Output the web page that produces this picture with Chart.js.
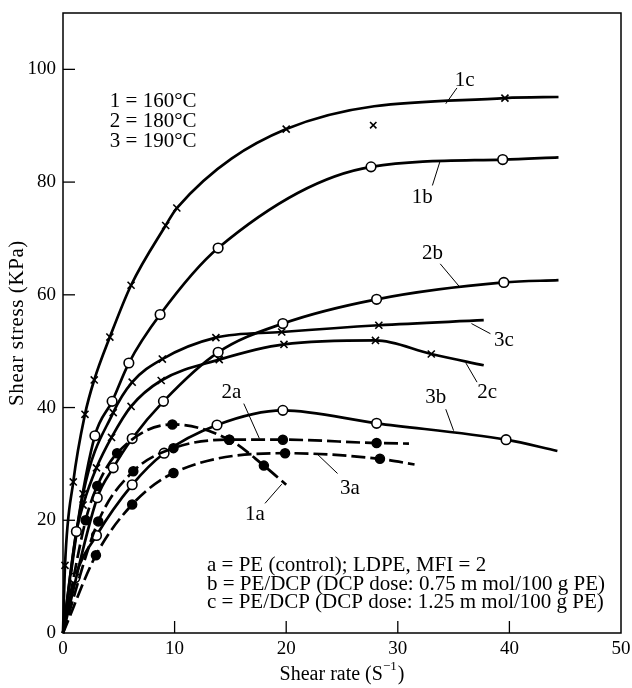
<!DOCTYPE html>
<html>
<head>
<meta charset="utf-8">
<script src="https://cdn.jsdelivr.net/npm/chart.js@4.4.0/dist/chart.umd.min.js"></script>
<style>
  html, body { margin: 0; padding: 0; background: #fff; }
  #caixa { width: 632px; height: 688px; position: relative; }
</style>
</head>
<body>
<div id="caixa"><canvas id="grafico"></canvas></div>
<script>
// ============================
// DADOS
// ============================
const xTicks = [0, 10, 20, 30, 40, 50];
const yTicks = [0, 20, 40, 60, 80, 100];

// 1 = 160°C, 2 = 180°C, 3 = 190°C
// a = PE, b = PE/DCP 0.75, c = PE/DCP 1.25
const x1a = [0, 2.03, 3.07, 4.85, 9.8, 14.9, 18.0, 20.0];
const y1a = [0, 20.0, 26.1, 31.9, 37.0, 34.3, 29.7, 26.3];

const x2a = [0, 3.16, 6.3, 9.9, 14.9, 19.7, 28.1, 31.0];
const y2a = [0, 19.8, 28.7, 32.8, 34.3, 34.3, 33.7, 33.6];

const x3a = [0, 2.95, 6.2, 9.9, 19.9, 28.4, 31.5];
const y3a = [0, 13.8, 22.8, 28.4, 31.9, 30.9, 29.9];

const x1b = [0, 1.2, 2.86, 4.4, 5.9, 8.7, 13.9, 27.6, 39.4, 44.4];
const y1b = [0, 18.0, 35.0, 41.1, 47.9, 56.5, 68.3, 82.7, 84.0, 84.4];

const x2b = [0, 3.07, 4.5, 6.2, 9.0, 13.9, 19.7, 28.1, 39.5, 44.4];
const y2b = [0, 24.0, 29.3, 34.5, 41.1, 49.8, 54.9, 59.2, 62.2, 62.6];

const x3b = [0, 1.07, 3.0, 6.2, 9.06, 13.8, 19.7, 28.1, 39.7, 44.3];
const y3b = [0, 9.8, 17.3, 26.3, 31.9, 36.9, 39.5, 37.2, 34.3, 32.3];

const x1c = [0, 0.18, 0.92, 1.97, 2.8, 4.2, 6.1, 9.2, 10.2, 20.0, 39.6, 44.4];
const y1c = [0, 12.0, 26.8, 38.8, 44.9, 52.5, 61.7, 72.3, 75.4, 89.4, 94.9, 95.1];

const x2c = [0, 1.2, 1.8, 3.0, 4.35, 6.1, 8.8, 14.0, 19.8, 28.0, 33.0, 37.7];
const y2c = [0, 18.0, 22.7, 29.3, 34.7, 40.2, 44.8, 48.5, 51.2, 51.9, 49.5, 47.5];

const x3c = [0, 1.8, 4.5, 6.2, 8.9, 13.7, 19.6, 28.3, 37.7];
const y3c = [0, 24.7, 39.1, 44.5, 48.6, 52.4, 53.4, 54.6, 55.5];

// ponto de 1c fora da curva
const x1cFora = [27.8];
const y1cFora = [90.1];

const curvas = [
  { nome: '1a', x: x1a, y: y1a, marca: 'cheia' },
  { nome: '2a', x: x2a, y: y2a, marca: 'cheia' },
  { nome: '3a', x: x3a, y: y3a, marca: 'cheia' },
  { nome: '1b', x: x1b, y: y1b, marca: 'aberta' },
  { nome: '2b', x: x2b, y: y2b, marca: 'aberta' },
  { nome: '3b', x: x3b, y: y3b, marca: 'aberta' },
  { nome: '1c', x: x1c, y: y1c, marca: 'xis' },
  { nome: '2c', x: x2c, y: y2c, marca: 'xis' },
  { nome: '3c', x: x3c, y: y3c, marca: 'xis' }
];

// ============================
// ESTILOS E TEXTOS
// ============================
const FONTE = '"Liberation Serif", "Times New Roman", serif';

const estilosMarca = {
  cheia:  { pointStyle: 'circle',   raio: 4.5, fundo: '#000', borda: 1.5 },
  aberta: { pointStyle: 'circle',   raio: 4.8, fundo: '#fff', borda: 1.6 },
  xis:    { pointStyle: 'crossRot', raio: 5,   fundo: '#000', borda: 1.6 }
};

// posições em unidades dos eixos
const rotulos = [
  { texto: '1c', x: 36.0, y: 98.1, linha: [35.3, 96.7, 34.3, 93.9] },
  { texto: '1b', x: 32.2, y: 77.2, linha: [33.1, 79.4, 33.8, 83.8] },
  { texto: '2b', x: 33.1, y: 67.3, linha: [33.8, 65.5, 35.5, 61.5] },
  { texto: '3c', x: 39.5, y: 51.9, linha: [38.3, 53.1, 36.6, 54.9] },
  { texto: '2c', x: 38.0, y: 42.7, linha: [37.1, 44.5, 36.1, 47.9] },
  { texto: '3b', x: 33.4, y: 41.8, linha: [34.3, 39.7, 35.0, 35.9] },
  { texto: '2a', x: 15.1, y: 42.7, linha: [16.2, 40.7, 17.6, 34.5] },
  { texto: '3a', x: 25.7, y: 25.7, linha: [24.6, 28.3, 22.8, 31.7] },
  { texto: '1a', x: 17.2, y: 21.1, linha: [18.1, 23.0, 19.6, 26.4] }
];

const legendaTemp = {
  x: 4.2, y: [94.3, 90.7, 87.2],
  linhas: ['1 = 160°C', '2 = 180°C', '3 = 190°C']
};

const legendaMaterial = {
  x: 12.9, y: [12.0, 8.6, 5.4],
  linhas: [
    'a = PE (control); LDPE, MFI = 2',
    'b = PE/DCP (DCP dose: 0.75 m mol/100 g PE)',
    'c = PE/DCP (DCP dose: 1.25 m mol/100 g PE)'
  ]
};

// ============================
// DATASETS
// ============================
function montarDatasets() {
  const lista = curvas.map(c => {
    const n = c.x.length;
    const e = estilosMarca[c.marca];
    return {
      label: c.nome,
      data: c.x.map((v, i) => ({ x: v, y: c.y[i] })),
      showLine: true,
      borderColor: '#000',
      borderWidth: 2.7,
      borderDash: c.marca === 'cheia' ? [14, 5] : [],
      cubicInterpolationMode: 'monotone',
      pointStyle: e.pointStyle,
      pointRadius: ctx => (ctx.dataIndex === 0 || ctx.dataIndex === n - 1) ? 0 : e.raio,
      pointBackgroundColor: e.fundo,
      pointBorderColor: '#000',
      pointBorderWidth: e.borda,
      clip: false
    };
  });

  lista.push({
    label: '1c fora',
    data: x1cFora.map((v, i) => ({ x: v, y: y1cFora[i] })),
    showLine: false,
    pointStyle: 'crossRot',
    pointRadius: 4.5,
    pointBorderColor: '#000',
    pointBorderWidth: 1.6,
    clip: false
  });

  return lista;
}

// ============================
// MOLDURA, TRAÇOS E TEXTOS
// ============================
const desenhoExtra = {
  id: 'desenhoExtra',
  afterDatasetsDraw(chart) {
    const { ctx, chartArea: a, scales: { x, y } } = chart;
    ctx.save();
    ctx.strokeStyle = '#000';
    ctx.fillStyle = '#000';

    // moldura
    ctx.lineWidth = 1.5;
    ctx.strokeRect(a.left, a.top, a.right - a.left, a.bottom - a.top);

    // traços para dentro
    ctx.lineWidth = 1.3;
    xTicks.slice(1, -1).forEach(v => {
      const px = x.getPixelForValue(v);
      ctx.beginPath();
      ctx.moveTo(px, a.bottom);
      ctx.lineTo(px, a.bottom - 12);
      ctx.stroke();
    });
    yTicks.slice(1).forEach(v => {
      const py = y.getPixelForValue(v);
      ctx.beginPath();
      ctx.moveTo(a.left, py);
      ctx.lineTo(a.left + 12, py);
      ctx.stroke();
    });

    // rótulos das curvas
    ctx.font = '21px ' + FONTE;
    ctx.textAlign = 'center';
    ctx.textBaseline = 'middle';
    ctx.lineWidth = 1;
    rotulos.forEach(r => {
      ctx.fillText(r.texto, x.getPixelForValue(r.x), y.getPixelForValue(r.y));
      ctx.beginPath();
      ctx.moveTo(x.getPixelForValue(r.linha[0]), y.getPixelForValue(r.linha[1]));
      ctx.lineTo(x.getPixelForValue(r.linha[2]), y.getPixelForValue(r.linha[3]));
      ctx.stroke();
    });

    // legendas
    ctx.textAlign = 'left';
    legendaTemp.linhas.forEach((t, i) => {
      ctx.fillText(t, x.getPixelForValue(legendaTemp.x), y.getPixelForValue(legendaTemp.y[i]));
    });
    legendaMaterial.linhas.forEach((t, i) => {
      ctx.fillText(t, x.getPixelForValue(legendaMaterial.x), y.getPixelForValue(legendaMaterial.y[i]));
    });

    // título do eixo x, com expoente
    const base = 'Shear rate (S';
    const sup = '\u22121';
    const fim = ')';
    ctx.font = '20px ' + FONTE;
    const wBase = ctx.measureText(base).width;
    const wFim = ctx.measureText(fim).width;
    ctx.font = '13px ' + FONTE;
    const wSup = ctx.measureText(sup).width;
    const total = wBase + wSup + wFim + 1;
    let cx = (a.left + a.right) / 2 - total / 2;
    const cy = a.bottom + 42;
    ctx.font = '20px ' + FONTE;
    ctx.fillText(base, cx, cy);
    cx += wBase;
    ctx.font = '13px ' + FONTE;
    ctx.fillText(sup, cx, cy - 8);
    cx += wSup + 1;
    ctx.font = '20px ' + FONTE;
    ctx.fillText(fim, cx, cy);

    // título do eixo y
    ctx.translate(a.left - 46, (a.top + a.bottom) / 2);
    ctx.rotate(-Math.PI / 2);
    ctx.textAlign = 'center';
    ctx.font = '21px ' + FONTE;
    ctx.letterSpacing = '0.6px';
    ctx.fillText('Shear stress (KPa)', 0, 0);

    ctx.restore();
  }
};

// ============================
// GRÁFICO
// ============================
const fonteTicks = { family: FONTE, size: 19 };

new Chart(document.getElementById('grafico').getContext('2d'), {
  type: 'line',
  data: { datasets: montarDatasets() },
  options: {
    responsive: true,
    maintainAspectRatio: false,
    animation: false,
    events: [],
    layout: { padding: { top: 13, right: 11, left: 0, bottom: 0 } },
    plugins: {
      legend: { display: false },
      tooltip: { enabled: false }
    },
    scales: {
      x: {
        type: 'linear',
        min: 0,
        max: 50,
        afterBuildTicks: s => { s.ticks = xTicks.map(v => ({ value: v })); },
        afterFit: s => { s.height = 55; s.paddingLeft = 0; s.paddingRight = 0; },
        grid: { display: false, drawTicks: false },
        border: { display: false },
        ticks: { color: '#000', font: fonteTicks, padding: 5, maxRotation: 0, autoSkip: false }
      },
      y: {
        type: 'linear',
        min: 0,
        max: 110,
        afterBuildTicks: s => { s.ticks = yTicks.map(v => ({ value: v })); },
        afterFit: s => { s.width = 63; s.paddingTop = 0; s.paddingBottom = 0; },
        grid: { display: false, drawTicks: false },
        border: { display: false },
        ticks: { color: '#000', font: fonteTicks, padding: 7 }
      }
    }
  },
  plugins: [desenhoExtra]
});
</script>
</body>
</html>
